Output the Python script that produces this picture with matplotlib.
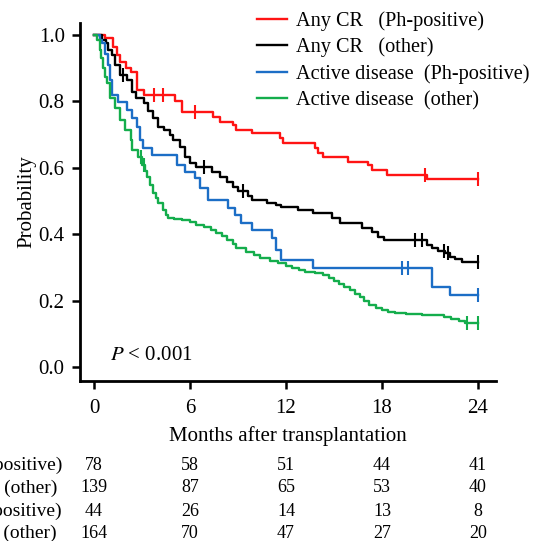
import matplotlib
matplotlib.use('Agg')
import matplotlib.pyplot as plt
import numpy as np

plt.rcParams['font.family'] = ['Liberation Serif', 'DejaVu Serif']
plt.rcParams['mathtext.fontset'] = 'stix'

# ---------------- data ----------------
month_ticks = [0, 6, 12, 18, 24]
prob_ticks = [0.0, 0.2, 0.4, 0.6, 0.8, 1.0]

series_labels = ["Any CR   (Ph-positive)", "Any CR   (other)",
                 "Active disease  (Ph-positive)", "Active disease  (other)"]
risk_labels = ["Any CR   (Ph-positive)", "Any CR   (other)",
               "Active disease  (Ph-positive)", "Active disease  (other)"]
colors = ['#FF1414', '#000000', '#1C6EC6', '#14AD4C']

red_t = [0, 0.7, 1.2, 1.45, 1.6, 2.0, 2.3, 2.7, 3.1, 5.06, 5.5, 7.45, 7.9, 8.7, 8.9,
         9.9, 11.6, 11.8, 13.8, 14.0, 14.3, 15.9, 17.1, 17.4, 18.3, 20.8, 24.0]
red_s = [1.0, 0.99, 0.964, 0.94, 0.92, 0.90, 0.89, 0.835, 0.82, 0.80, 0.768, 0.753, 0.738,
         0.729, 0.715, 0.705, 0.69, 0.675, 0.66, 0.645, 0.633, 0.618, 0.609, 0.594,
         0.579, 0.567, 0.567]
red_cens = [3.75, 4.3, 6.3, 20.7, 24.0]

black_t = [0, 0.5, 0.75, 0.9, 1.1, 1.3, 1.6, 2.05, 2.4, 2.6, 3.1, 3.4, 3.7, 4.0, 4.4,
           4.75, 4.95, 5.4, 5.7, 6.0, 6.4, 7.4, 7.9, 8.3, 8.7, 9.0, 9.6, 9.9, 10.8,
           11.4, 11.7, 12.75, 13.7, 14.9, 15.4, 16.75, 17.4, 17.75, 18.1, 20.8, 21.1,
           21.5, 21.95, 22.25, 22.55, 23.0, 24.0]
black_s = [1.0, 0.985, 0.975, 0.955, 0.94, 0.91, 0.88, 0.865, 0.83, 0.81, 0.795, 0.77,
           0.75, 0.724, 0.714, 0.70, 0.684, 0.663, 0.633, 0.615, 0.603, 0.588, 0.573,
           0.558, 0.543, 0.53, 0.515, 0.504, 0.494, 0.489, 0.483, 0.474, 0.465, 0.449,
           0.434, 0.42, 0.406, 0.392, 0.383, 0.368, 0.359, 0.35, 0.344, 0.333, 0.325,
           0.317, 0.317]
black_cens = [1.8, 6.9, 9.3, 20.06, 20.5, 21.9, 22.1, 24.0]

blue_t = [0, 0.4, 0.5, 0.7, 0.9, 1.0, 1.1, 1.5, 2.06, 2.4, 2.7, 2.9, 3.06, 3.6, 5.2,
          5.7, 6.3, 6.6, 7.1, 8.4, 8.8, 9.2, 9.9, 11.1, 11.4, 11.7, 13.7, 21.1, 22.25, 24.0]
blue_s = [1.0, 0.985, 0.975, 0.944, 0.91, 0.865, 0.82, 0.797, 0.774, 0.75, 0.724, 0.684,
          0.66, 0.639, 0.609, 0.588, 0.57, 0.54, 0.504, 0.48, 0.459, 0.434, 0.413, 0.39,
          0.353, 0.323, 0.299, 0.242, 0.218, 0.218]
blue_cens = [19.25, 19.6, 24.0]

green_t = [0, 0.2, 0.35, 0.45, 0.56, 0.7, 0.8, 1.0, 1.3, 1.6, 1.95, 2.3, 2.4, 2.75, 3.0,
           3.2, 3.3, 3.5, 3.7, 3.9, 4.0, 4.3, 4.5, 4.6, 5.0, 5.5, 6.0, 6.4, 6.9, 7.3,
           7.6, 8.0, 8.3, 8.7, 8.9, 9.5, 10.0, 10.4, 11.0, 11.5, 12.0, 12.4, 12.8, 13.2,
           13.8, 14.3, 14.7, 15.0, 15.3, 15.6, 16.0, 16.3, 16.6, 16.9, 17.2, 17.6, 18.0,
           18.4, 18.8, 19.5, 20.5, 21.9, 22.3, 22.8, 23.2, 24.0]
green_s = [1.0, 0.985, 0.955, 0.93, 0.90, 0.875, 0.855, 0.81, 0.78, 0.745, 0.714, 0.684,
           0.654, 0.633, 0.61, 0.59, 0.573, 0.55, 0.525, 0.51, 0.494, 0.474, 0.459, 0.45,
           0.447, 0.443, 0.438, 0.43, 0.422, 0.413, 0.405, 0.395, 0.383, 0.37, 0.36,
           0.347, 0.338, 0.329, 0.32, 0.314, 0.305, 0.299, 0.293, 0.288, 0.284, 0.278,
           0.27, 0.26, 0.25, 0.242, 0.232, 0.222, 0.212, 0.2, 0.188, 0.18, 0.173, 0.168,
           0.164, 0.16, 0.158, 0.152, 0.147, 0.14, 0.135, 0.135]
green_cens = [2.95, 3.1, 23.3, 24.0]

at_risk_red = [78, 58, 51, 44, 41]
at_risk_black = [139, 87, 65, 53, 40]
at_risk_blue = [44, 26, 14, 13, 8]
at_risk_green = [164, 70, 47, 27, 20]

p_text = "$P$ < 0.001"
xlabel = "Months after transplantation"
ylabel = "Probability"

# ---------------- plot ----------------
W, H = 546, 541
FS = 15
fig = plt.figure(figsize=(W / 100, H / 100), dpi=100)
ax = fig.add_axes([80 / W, 1 - 381 / H, 416 / W, 358 / H])

curves = [(red_t, red_s, red_cens), (black_t, black_s, black_cens),
          (blue_t, blue_s, blue_cens), (green_t, green_s, green_cens)]


def surv_at(t, times, surv):
    idx = np.searchsorted(times, t, side='right') - 1
    return surv[max(idx, 0)]


handles = []
for (t, s, c), col, lab in zip(curves, colors, series_labels):
    h, = ax.step(t, s, where='post', color=col, lw=1.7, label=lab)
    handles.append(h)
    cy = [surv_at(ct, t, s) for ct in c]
    ax.plot(c, cy, ls='none', marker='|', ms=10, mew=1.5, color=col)

ax.set_xlim(-0.875, 25.125)
ax.set_ylim(-0.0406, 1.036)
ax.set_xticks(month_ticks)
ax.set_yticks(prob_ticks)
ax.set_yticklabels([f"{v:.1f}" for v in prob_ticks])
for sp in ['top', 'right']:
    ax.spines[sp].set_visible(False)
for sp in ['left', 'bottom']:
    ax.spines[sp].set_linewidth(2)
ax.tick_params(axis='both', direction='out', length=6, width=1.8, labelsize=FS, pad=5)
ax.tick_params(axis='x', pad=7)
ax.set_xlabel(xlabel, fontsize=FS, labelpad=6)
ax.set_ylabel(ylabel, fontsize=FS)
ax.yaxis.set_label_coords(-0.105, 0.5)

ax.text(1.0, 0.035, p_text, fontsize=FS, va='center', ha='left')

leg = ax.legend(handles=handles, loc='upper left', bbox_to_anchor=(257 / W, 1 - 11 / H),
                bbox_transform=fig.transFigure, frameon=False, fontsize=14.6,
                handlelength=1.48, handletextpad=0.44, labelspacing=0.34,
                borderpad=0, borderaxespad=0)

# number at risk table
row_y = [465, 488, 511, 533]
label_right = [62, 57, 62, 57]
tr = matplotlib.transforms.blended_transform_factory(ax.transData, fig.transFigure)
for lab, vals, yy, xr in zip(risk_labels, [at_risk_red, at_risk_black, at_risk_blue, at_risk_green],
                             row_y, label_right):
    fy = 1 - yy / H
    fig.text(xr / W, fy, lab, ha='right', va='center', fontsize=14)
    for m, v in zip(month_ticks, vals):
        ax.text(m, fy, str(v), transform=tr, ha='center', va='center', fontsize=13, clip_on=False)

fig.savefig('out.png', dpi=100)
